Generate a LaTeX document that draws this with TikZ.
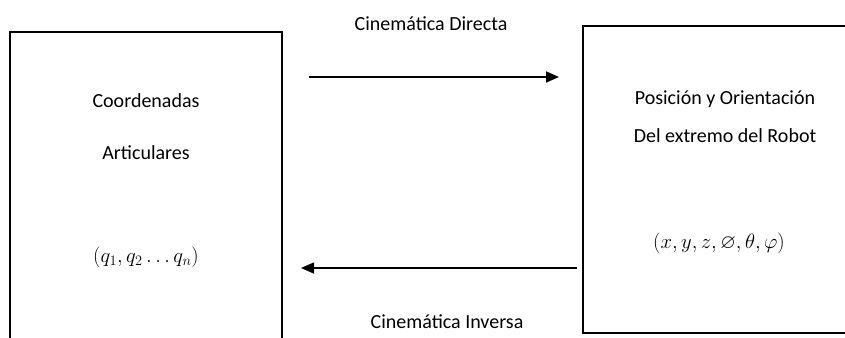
\documentclass[tikz,border=0pt]{standalone}
\usepackage{amssymb}
\usepackage{fontspec}
\setmainfont{Carlito}
\usetikzlibrary{arrows.meta}
\begin{document}
\begin{tikzpicture}[x=1pt,y=-1pt,
  box/.style={draw=black,line width=1.8pt,fill=none,inner sep=0pt},
  txt/.style={font=\fontsize{20}{24}\selectfont,inner sep=0pt,anchor=center},
  conn/.style={line width=1.6pt,-{Triangle[length=13pt,width=11pt]}}]
\useasboundingbox (0,0) rectangle (845,337);
\clip (0,0) rectangle (845,337);
\node[box,minimum width=272pt,minimum height=320pt] (L) at (146,192) {};
\node[box,minimum width=284pt,minimum height=307pt] (R) at (725,179.5) {};
\node[txt] (l1) at (146,101) {Coordenadas};
\node[txt] (l2) at (146,153) {Articulares};
\node[txt] (l3) at (146,257) {$(q_1, q_2 \ldots q_n)$};
\node[txt] (r1) at (725,99) {Posición y Orientación};
\node[txt] (r2) at (725,136) {Del extremo del Robot};
\node[txt] (r3) at (719,243) {$(x,y,z,\varnothing,\theta,\varphi)$};
\node[txt] (cd) at (431,24) {Cinemática Directa};
\node[txt] (ci) at (447,322) {Cinemática Inversa};
\coordinate (a1) at (309,77);
\coordinate (a2) at (559,77);
\coordinate (b1) at (577,268);
\coordinate (b2) at (301,268);
\draw[conn] (a1) -- (a2);
\draw[conn] (b1) -- (b2);
\end{tikzpicture}
\end{document}
